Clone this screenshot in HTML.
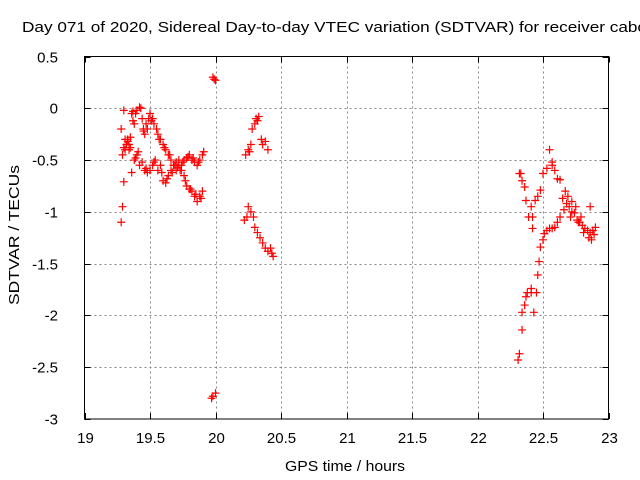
<!DOCTYPE html>
<html><head><meta charset="utf-8"><style>
html,body{margin:0;padding:0;background:#fff;}
svg{display:block;font-family:"Liberation Sans",sans-serif;}
</style></head><body>
<svg id="chart" width="640" height="480">
<text x="22" y="32" font-size="15" textLength="625" lengthAdjust="spacingAndGlyphs">Day 071 of 2020, Sidereal Day-to-day VTEC variation (SDTVAR) for receiver cabo</text>
<g id="grid"></g>
<g id="ticks"></g>
<g id="pts"></g>
<rect x="84.5" y="56.5" width="524" height="362.5" fill="none" stroke="#000" stroke-width="1"/>
<text x="285" y="471" font-size="15" textLength="120" lengthAdjust="spacingAndGlyphs">GPS time / hours</text>
<text transform="translate(19,305) rotate(-90)" font-size="15" textLength="140" lengthAdjust="spacingAndGlyphs">SDTVAR / TECUs</text>
</svg>
<script>
const xTicks=[19,19.5,20,20.5,21,21.5,22,22.5,23];
const xTickLabels=["19","19.5","20","20.5","21","21.5","22","22.5","23"];
const yTicks=[0.5,0,-0.5,-1,-1.5,-2,-2.5,-3];
const yTickLabels=["0.5","0","-0.5","-1","-1.5","-2","-2.5","-3"];
const ptX=[19.28,19.29,19.30,19.29,19.30,19.31,19.28,19.30,19.32,19.33,19.34,19.35,19.36,19.37,19.38,19.39,19.40,19.42,19.43,19.44,19.45,19.46,19.47,19.48,19.49,19.50,19.52,19.53,19.55,19.56,19.58,19.60,19.62,19.64,19.66,19.68,19.70,19.72,19.74,19.76,19.78,19.80,19.82,19.84,19.86,19.88,19.90,
19.36,19.38,19.40,19.42,19.44,19.46,19.48,19.50,19.52,19.54,19.56,19.58,19.60,19.62,19.64,19.66,19.68,19.70,19.72,19.74,19.76,19.78,19.80,19.82,19.84,19.86,19.88,19.90,19.91,
19.33,19.35,19.37,19.41,19.45,19.51,19.57,19.61,19.65,19.69,19.73,19.77,19.81,19.85,19.89,19.31,19.34,19.39,19.47,19.53,19.59,19.63,19.67,19.71,19.75,19.79,19.83,19.87,
19.98,19.99,20.0,19.97,19.98,20.0,
20.22,20.24,20.25,20.27,20.29,20.30,20.32,20.34,20.36,20.38,20.40,20.42,20.43,20.44,
20.23,20.25,20.26,20.27,20.28,20.30,20.31,20.32,20.33,20.35,20.36,20.38,20.40,
22.32,22.31,22.32,22.34,22.34,22.36,22.37,22.38,22.41,22.41,22.43,22.45,22.46,22.47,22.48,22.50,22.51,22.53,22.55,22.57,22.59,22.61,22.63,22.66,22.65,22.63,22.61,22.59,22.57,22.57,22.55,22.53,22.50,22.48,22.46,22.44,22.41,22.39,22.37,22.36,22.34,22.33,22.42,22.42,
22.68,22.70,22.72,22.74,22.76,22.78,22.80,22.82,22.84,22.86,22.88,22.90,22.86,22.87,22.79,22.75,22.72,22.69,22.67,22.71,22.77,22.81,22.85,22.89];
const ptY=[-1.1,-0.95,-0.71,-0.45,-0.38,-0.3,-0.2,-0.02,-0.35,-0.3,-0.4,-0.38,-0.05,-0.03,-0.15,-0.05,-0.02,0.01,0.0,-0.1,-0.2,-0.25,-0.15,-0.2,-0.1,-0.05,-0.1,-0.15,-0.2,-0.25,-0.3,-0.35,-0.4,-0.45,-0.5,-0.55,-0.6,-0.55,-0.6,-0.65,-0.75,-0.78,-0.8,-0.85,-0.9,-0.85,-0.8,
-0.62,-0.5,-0.45,-0.55,-0.52,-0.6,-0.62,-0.6,-0.55,-0.5,-0.6,-0.55,-0.7,-0.72,-0.65,-0.6,-0.55,-0.52,-0.5,-0.55,-0.5,-0.48,-0.45,-0.5,-0.52,-0.55,-0.5,-0.45,-0.42,
-0.32,-0.28,-0.12,-0.42,-0.22,-0.12,-0.3,-0.38,-0.45,-0.55,-0.6,-0.7,-0.78,-0.83,-0.87,-0.4,-0.35,-0.48,-0.58,-0.52,-0.62,-0.68,-0.62,-0.57,-0.52,-0.47,-0.48,-0.52,
0.3,0.28,0.27,-2.8,-2.78,-2.75,
-1.08,-1.05,-0.95,-1.0,-1.05,-1.15,-1.2,-1.25,-1.3,-1.35,-1.38,-1.35,-1.4,-1.43,
-0.45,-0.4,-0.42,-0.35,-0.2,-0.15,-0.1,-0.12,-0.08,-0.3,-0.35,-0.32,-0.4,
-0.63,-2.43,-2.37,-2.14,-1.97,-1.9,-1.82,-1.78,-1.74,-1.78,-1.97,-1.78,-1.61,-1.48,-1.34,-1.27,-1.21,-1.18,-1.16,-1.16,-1.15,-1.1,-1.05,-0.98,-0.87,-0.69,-0.68,-0.6,-0.55,-0.52,-0.4,-0.58,-0.63,-0.79,-0.85,-0.89,-0.95,-1.05,-0.89,-0.76,-0.7,-0.63,-1.05,-1.16,
-0.92,-0.95,-1.0,-1.01,-1.08,-1.1,-1.13,-1.16,-1.18,-1.2,-1.18,-1.15,-0.95,-1.27,-1.05,-0.95,-0.9,-0.85,-0.8,-1.05,-1.1,-1.2,-1.25,-1.22];
const NS="http://www.w3.org/2000/svg";
const L=84.5,R=608.5,T=56.5,B=419;
const sx=v=>L+(v-19)/4*(R-L);
const sy=v=>T+(0.5-v)/3.5*(B-T);
const grid=document.getElementById('grid'),ticks=document.getElementById('ticks'),pts=document.getElementById('pts');
function mk(tag,attrs,parent){const e=document.createElementNS(NS,tag);for(const k in attrs)e.setAttribute(k,attrs[k]);parent.appendChild(e);return e;}
xTicks.forEach((v,i)=>{
  const x=Math.round(sx(v))+0.5;
  if(i>0&&i<xTicks.length-1){const g=mk('line',{x1:x,x2:x,y1:T,y2:B,stroke:'#888','stroke-dasharray':'2,3'},grid);
  
  }
  mk('line',{x1:x,x2:x,y1:B,y2:B-6,stroke:'#000'},ticks);
  mk('line',{x1:x,x2:x,y1:T,y2:T+6,stroke:'#000'},ticks);
  const t=mk('text',{x:x,y:443,'font-size':15,'text-anchor':'middle'},ticks);
  t.textContent=xTickLabels[i];
  
  
});
yTicks.forEach((v,i)=>{
  const y=Math.round(sy(v))+0.5;
  if(i>0&&i<yTicks.length-1){const g=mk('line',{x1:L,x2:R,y1:y,y2:y,stroke:'#888','stroke-dasharray':'2,3'},grid);
  
  }
  mk('line',{x1:L,x2:L+6,y1:y,y2:y,stroke:'#000'},ticks);
  mk('line',{x1:R,x2:R-6,y1:y,y2:y,stroke:'#000'},ticks);
  const t=mk('text',{x:58,y:y+5,'font-size':15,'text-anchor':'end'},ticks);
  t.textContent=yTickLabels[i];
  
  
});
ptX.forEach((xv,i)=>{
  const x=sx(xv),y=sy(ptY[i]);
  const p=mk('path',{d:`M${x-4},${y}H${x+4}M${x},${y-4}V${y+4}`,stroke:'#ff0000','stroke-width':1.2,fill:'none'},pts);
  
  
});
</script>
</body></html>
